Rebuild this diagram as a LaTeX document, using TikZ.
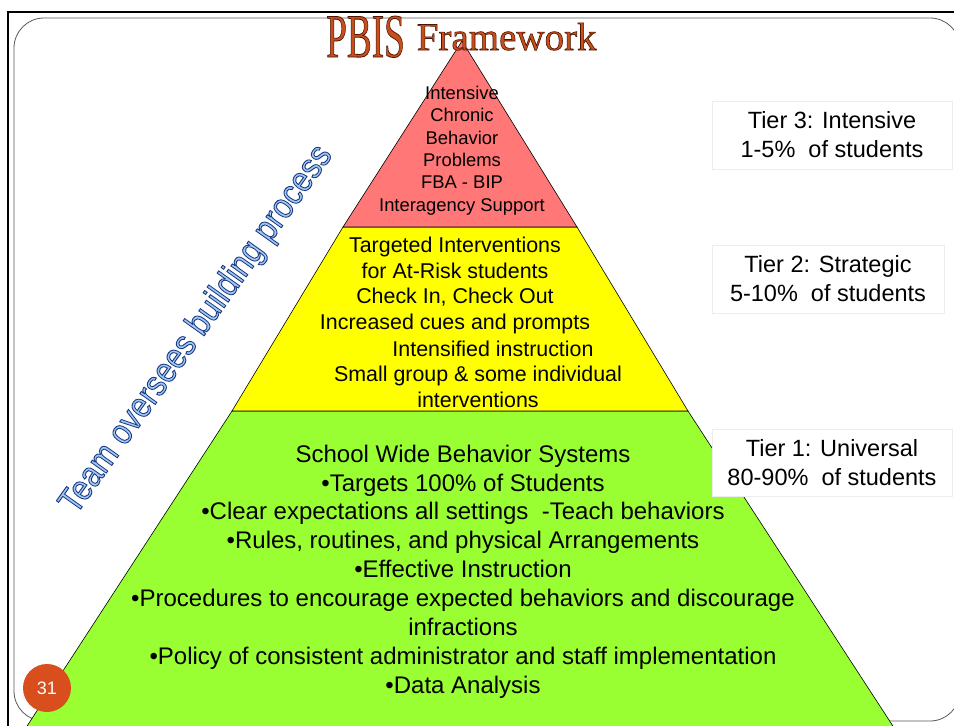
\documentclass[tikz,border=0pt]{standalone}
\usepackage{fontspec}
\setmainfont{Liberation Sans}
\newfontfamily\titlefont{Liberation Serif}
\definecolor{tierred}{RGB}{255,119,119}
\definecolor{tieryellow}{RGB}{255,255,0}
\definecolor{tiergreen}{RGB}{153,255,51}
\definecolor{titlefill}{RGB}{200,78,28}
\definecolor{teamfill}{RGB}{160,200,245}
\definecolor{badge}{RGB}{216,78,28}
% outlined lettering: #1 stroke colour as PDF rgb numbers, #2 fill colour,
% #3 stroke width, #4 text
\newcommand\outlinetext[4]{%
  {\color{#2}\special{pdf:code 2 Tr #3 w #1 RG}#4\special{pdf:code 0 Tr}}}
\begin{document}
\begin{tikzpicture}[x=1pt,y=-1pt,
  tierline/.style={draw=black,line width=0.6pt,line join=miter},
  tiertext/.style={align=center,inner sep=0pt},
  labelbox/.style={draw=black!7,fill=white,line width=0.6pt,align=center,inner sep=0pt,
    font=\fontsize{23.5}{29}\selectfont}]
\useasboundingbox (0,0) rectangle (954,726);
\fill[white] (0,0) rectangle (954,726);

% slide frame
\draw[black!65,line width=0.8pt,rounded corners=30] (14,18) rectangle (960,721);
\draw[line width=2pt] (8,745) -- (8,12) -- (975,12);

% pyramid tiers
\coordinate (apex) at (462,41);
\coordinate (rl) at (343,227);
\coordinate (rr) at (577,227);
\coordinate (yl) at (232,411);
\coordinate (yr) at (688,411);
\coordinate (gl) at (18,740);
\coordinate (gr) at (902,740);
\filldraw[tierline,fill=tiergreen] (yl) -- (yr) -- (gr) -- (gl) -- cycle;
\filldraw[tierline,fill=tieryellow] (rl) -- (rr) -- (yr) -- (yl) -- cycle;
\filldraw[tierline,fill=tierred] (apex) -- (rr) -- (rl) -- cycle;

% tier texts
\node[tiertext,font=\fontsize{18.4}{22.4}\selectfont] (t3) at (462,150.5)
  {Intensive\\Chronic\\Behavior\\Problems\\FBA - BIP\\Interagency Support};
\node[tiertext,font=\fontsize{21.4}{25.6}\selectfont] (t2a) at (455,285.5)
  {Targeted Interventions\\for At-Risk students\\Check In, Check Out\\Increased cues and prompts};
\node[tiertext,font=\fontsize{21.4}{25.6}\selectfont] (t2b) at (493,349)
  {Intensified instruction};
\node[tiertext,font=\fontsize{21.4}{25.6}\selectfont] (t2c) at (478,387)
  {Small group \& some individual\\interventions};
\node[tiertext,font=\fontsize{24}{28.9}\selectfont] (t1) at (463,571.5)
  {School Wide Behavior Systems\\
   •Targets 100\% of Students\\
   •Clear expectations all settings\ \ -Teach behaviors\\
   •Rules, routines, and physical Arrangements\\
   •Effective Instruction\\
   •Procedures to encourage expected behaviors and discourage\\
   infractions\\
   •Policy of consistent administrator and staff implementation\\
   •Data Analysis};

% tier labels
\node[labelbox,minimum width=240,minimum height=68] (l3) at (832,135)
  {Tier 3: Intensive\\1-5\%\ \ of students};
\node[labelbox,minimum width=232,minimum height=68] (l2) at (828,279)
  {Tier 2: Strategic\\5-10\%\ \ of students};
\node[labelbox,minimum width=240,minimum height=67] (l1) at (832,462.5)
  {Tier 1: Universal\\80-90\%\ \ of students};

% title
\node[inner sep=0pt,anchor=base west] (title) at (326,50)
  {\titlefont
   \raisebox{-7pt}{\scalebox{0.6}[1]{\fontsize{62}{62}\selectfont\outlinetext{0.3 0.08 0}{titlefill}{0.8}{PBIS}}}%
   \hspace{12pt}{\fontsize{39}{39}\selectfont\outlinetext{0.3 0.08 0}{titlefill}{0.6}{Framework}}};

% diagonal caption
\node[inner sep=0pt,rotate=54.5] (team) at (197,330)
  {\scalebox{1}[1.15]{\fontsize{31}{31}\selectfont\outlinetext{0.1 0.22 0.5}{teamfill}{0.8}{Team oversees building process}}};

% slide number
\node[circle,fill=badge,minimum size=48,inner sep=0pt,text=white,
  font=\fontsize{18}{18}\selectfont] (num) at (47,688) {31};
\end{tikzpicture}
\end{document}
